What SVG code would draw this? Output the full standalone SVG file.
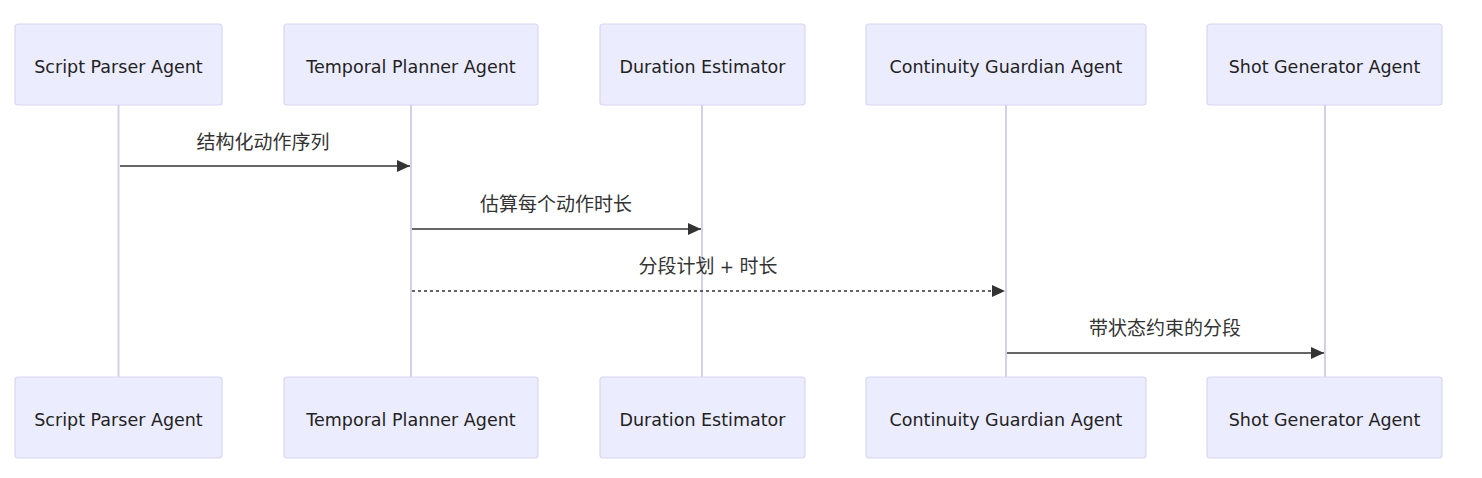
<svg xmlns="http://www.w3.org/2000/svg" width="1482" height="478" viewBox="0 0 1482 478">
<style>
.actor rect{fill:#ECECFF;stroke:#D9D6F2;stroke-width:1.2}
.actor text{font-family:"DejaVu Sans","Liberation Sans",sans-serif;font-size:17.5px;fill:#222;text-anchor:middle;dominant-baseline:central}
.life{stroke:#D3D1E8;stroke-width:2}
.msg{stroke:#333;stroke-width:1.6;fill:none}
.dash{stroke-dasharray:3,3}
.lbl{font-family:"Noto Sans CJK SC","DejaVu Sans",sans-serif;font-size:19px;fill:#333;text-anchor:middle}
.lat{font-family:"DejaVu Sans",sans-serif;font-size:17px}
</style>
<defs>
<marker id="ah" markerWidth="14" markerHeight="12" refX="13" refY="6" orient="auto" markerUnits="userSpaceOnUse">
<path d="M0,0 L13,6 L0,12 Z" fill="#333"/>
</marker>
</defs>
<g id="lifelines">
<line class="life" x1="118.5" y1="105" x2="118.5" y2="378"/>
<line class="life" x1="411" y1="105" x2="411" y2="378"/>
<line class="life" x1="702" y1="105" x2="702" y2="378"/>
<line class="life" x1="1006" y1="105" x2="1006" y2="378"/>
<line class="life" x1="1325" y1="105" x2="1325" y2="378"/>
</g>
<g id="actor-script-top" class="actor"><rect x="15" y="24" width="207" height="81" rx="3"/><text x="118.5" y="66.5">Script Parser Agent</text></g>
<g id="actor-temporal-top" class="actor"><rect x="284" y="24" width="254" height="81" rx="3"/><text x="411" y="66.5">Temporal Planner Agent</text></g>
<g id="actor-duration-top" class="actor"><rect x="600" y="24" width="205" height="81" rx="3"/><text x="702.5" y="66.5">Duration Estimator</text></g>
<g id="actor-continuity-top" class="actor"><rect x="866" y="24" width="280" height="81" rx="3"/><text x="1006" y="66.5">Continuity Guardian Agent</text></g>
<g id="actor-shot-top" class="actor"><rect x="1207" y="24" width="235" height="81" rx="3"/><text x="1324.5" y="66.5">Shot Generator Agent</text></g>
<g id="actor-script-bottom" class="actor"><rect x="15" y="377" width="207" height="81" rx="3"/><text x="118.5" y="419.5">Script Parser Agent</text></g>
<g id="actor-temporal-bottom" class="actor"><rect x="284" y="377" width="254" height="81" rx="3"/><text x="411" y="419.5">Temporal Planner Agent</text></g>
<g id="actor-duration-bottom" class="actor"><rect x="600" y="377" width="205" height="81" rx="3"/><text x="702.5" y="419.5">Duration Estimator</text></g>
<g id="actor-continuity-bottom" class="actor"><rect x="866" y="377" width="280" height="81" rx="3"/><text x="1006" y="419.5">Continuity Guardian Agent</text></g>
<g id="actor-shot-bottom" class="actor"><rect x="1207" y="377" width="235" height="81" rx="3"/><text x="1324.5" y="419.5">Shot Generator Agent</text></g>
<g id="connectors">
<line class="msg" x1="120" y1="166" x2="410" y2="166" marker-end="url(#ah)"/>
<text class="lbl" x="263" y="149">结构化动作序列</text>
<line class="msg" x1="412" y1="229" x2="701" y2="229" marker-end="url(#ah)"/>
<text class="lbl" x="556" y="211">估算每个动作时长</text>
<line class="msg dash" x1="412" y1="291" x2="1005" y2="291" marker-end="url(#ah)"/>
<text class="lbl" x="708" y="273">分段计划<tspan class="lat"> + </tspan>时长</text>
<line class="msg" x1="1007" y1="353" x2="1324" y2="353" marker-end="url(#ah)"/>
<text class="lbl" x="1165" y="335">带状态约束的分段</text>
</g>
</svg>
